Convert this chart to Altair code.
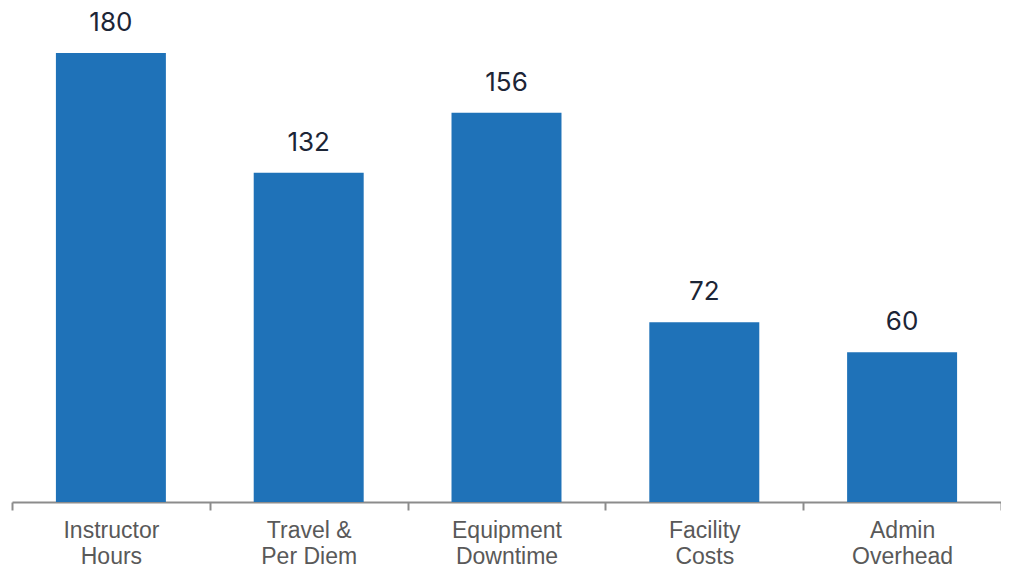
import altair as alt
import pandas as pd

categories = ["Instructor\nHours", "Travel &\nPer Diem", "Equipment\nDowntime", "Facility\nCosts", "Admin\nOverhead"]
values = [180, 132, 156, 72, 60]

df = pd.DataFrame({"category": categories, "value": values})

x_enc = alt.X(
    "category:N",
    sort=None,
    title=None,
    scale=alt.Scale(paddingInner=0, paddingOuter=0),
    axis=alt.Axis(
        labelAngle=0,
        tickBand="extent",
        labelExpr="split(datum.label, '\\n')",
        labelFont="Liberation Sans",
        labelFontSize=23,
        labelLineHeight=26,
        labelColor="#595959",
        labelPadding=9,
        domainColor="#8c8c8c",
        domainWidth=2,
        tickColor="#8c8c8c",
        tickWidth=2,
        tickSize=8,
        grid=False,
    ),
)
y_enc = alt.Y("value:Q", axis=None, scale=alt.Scale(domain=[0, 198], nice=False))

base = alt.Chart(df).encode(x=x_enc, y=y_enc)

bars = base.mark_bar(color="#1f72b8", width=alt.RelativeBandSize(0.556))
labels = base.mark_text(
    dy=-22, baseline="alphabetic", font="Inter", fontSize=26, color="#1c2536"
).encode(text="value:Q")

chart = (
    alt.layer(bars, labels)
    .properties(
        width=989,
        height=494,
        autosize="none",
        padding={"left": 4, "top": 0, "right": 0, "bottom": 66},
    )
    .configure_view(stroke=None)
)

chart.save("out.html", embed_options={"renderer": "svg", "actions": False})
